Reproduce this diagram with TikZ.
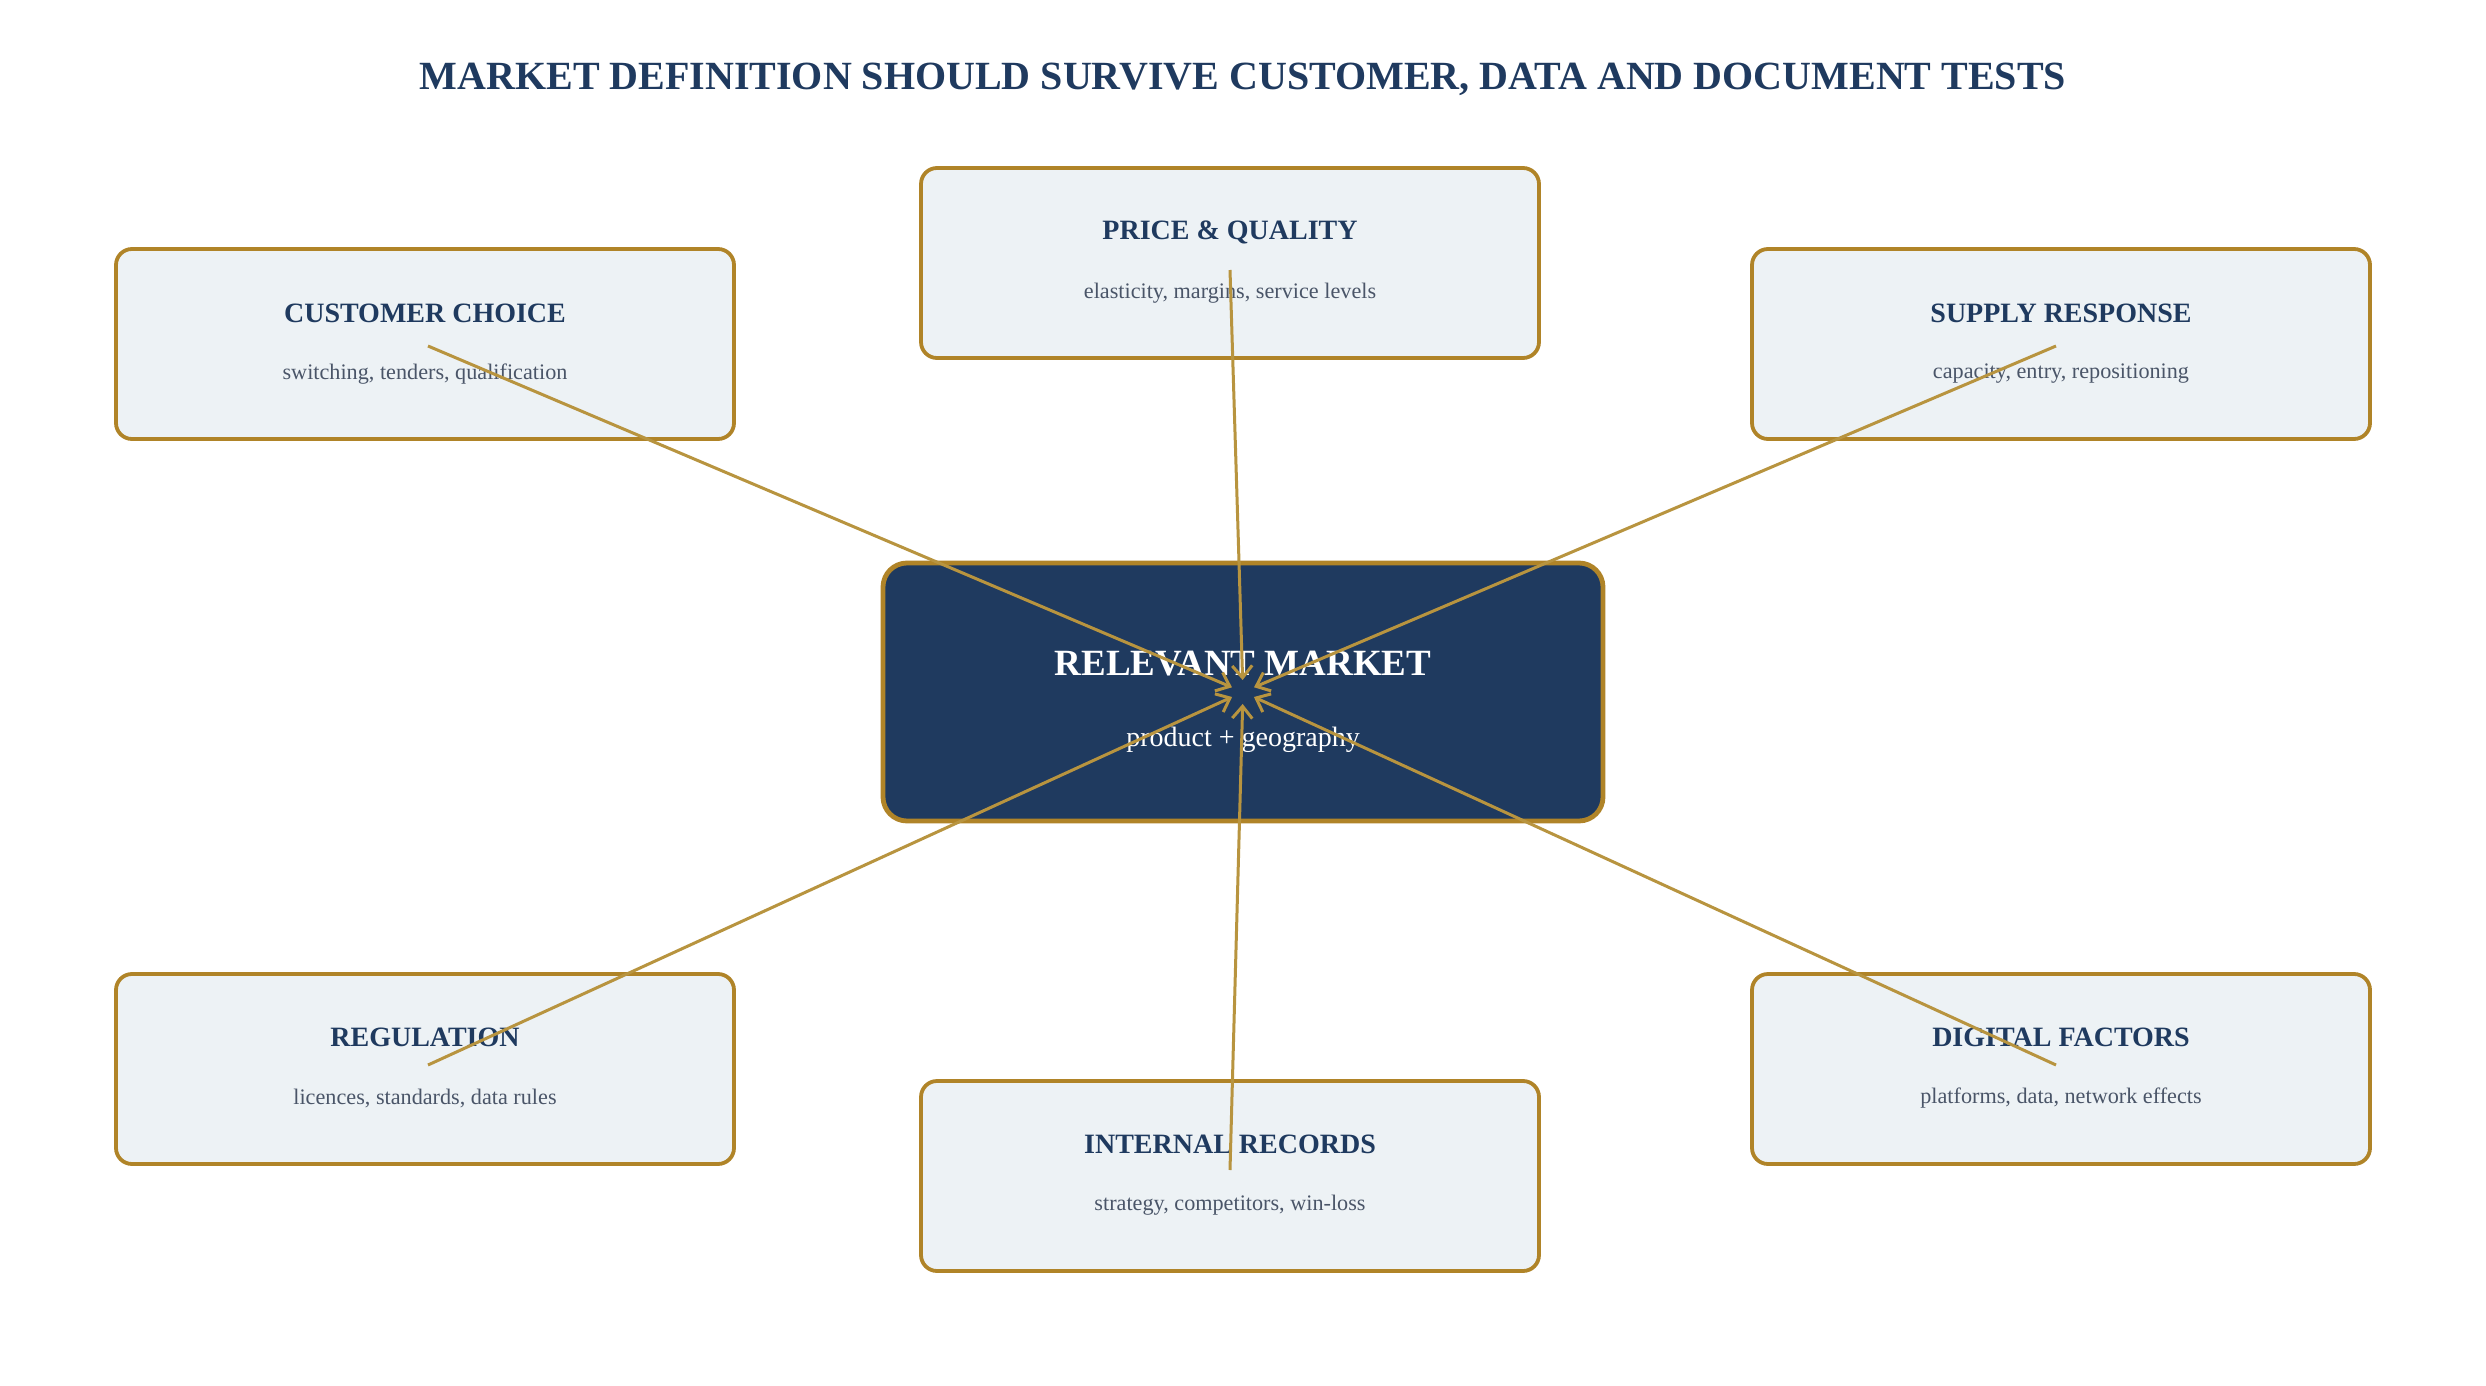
\documentclass[tikz,border=0pt]{standalone}
\usepackage{fontspec}
\setmainfont{Liberation Serif}
\usetikzlibrary{arrows.meta}
\definecolor{navy}{HTML}{1F3A5F}
\definecolor{gold}{HTML}{B08428}
\definecolor{goldline}{HTML}{B8943F}
\definecolor{boxfill}{HTML}{EDF2F5}
\definecolor{subgray}{HTML}{4A5568}
\begin{document}
\begin{tikzpicture}[x=0.5pt,y=-0.5pt,
  factorbox/.style={draw=gold,line width=1.9pt,fill=boxfill,rounded corners=8pt,
    minimum width=309pt,minimum height=95pt,inner sep=0pt},
  centerbox/.style={draw=gold,line width=2.4pt,fill=navy,rounded corners=12pt,
    minimum width=360pt,minimum height=129pt,inner sep=0pt},
  boxtitle/.style={font=\bfseries\fontsize{14}{16}\selectfont,text=navy,inner sep=0pt},
  boxsub/.style={font=\fontsize{11.1}{13}\selectfont,text=subgray,inner sep=0pt},
  link/.style={draw=goldline,line width=1.5pt,-{Straight Barb[length=6pt,width=10pt,line width=1.5pt]},shorten >=6pt}
]
\useasboundingbox (0,0) rectangle (2486,1386);
\fill[white] (0,0) rectangle (2486,1386);

\node[font=\bfseries\fontsize{20}{24}\selectfont,text=navy] (title) at (1243,79)
  {MARKET DEFINITION SHOULD SURVIVE CUSTOMER, DATA AND DOCUMENT TESTS};

% boxes
\node[factorbox] (price) at (1230,263) {};
\node[factorbox] (cust) at (425,344) {};
\node[factorbox] (supply) at (2061,344) {};
\node[factorbox] (reg) at (425,1069) {};
\node[factorbox] (internal) at (1230,1176) {};
\node[factorbox] (digital) at (2061,1069) {};
\node[centerbox] (market) at (1243,692) {};

% texts
\node[boxtitle] (priceT) at (1230,232) {PRICE \& QUALITY};
\node[boxsub] (priceS) at (1230,293) {elasticity, margins, service levels};
\node[boxtitle] (custT) at (425,313) {CUSTOMER CHOICE};
\node[boxsub] (custS) at (425,374) {switching, tenders, qualification};
\node[boxtitle] (supplyT) at (2061,313) {SUPPLY RESPONSE};
\node[boxsub] (supplyS) at (2061,374) {capacity, entry, repositioning};
\node[boxtitle] (regT) at (425,1037) {REGULATION};
\node[boxsub] (regS) at (425,1098) {licences, standards, data rules};
\node[boxtitle] (internalT) at (1230,1144) {INTERNAL RECORDS};
\node[boxsub] (internalS) at (1230,1205) {strategy, competitors, win-loss};
\node[boxtitle] (digitalT) at (2061,1037) {DIGITAL FACTORS};
\node[boxsub] (digitalS) at (2061,1098) {platforms, data, network effects};

\node[font=\bfseries\fontsize{18.5}{22}\selectfont,text=white,inner sep=0pt] (marketT) at (1243,664) {RELEVANT MARKET};
\node[font=\fontsize{14}{17}\selectfont,text=white,inner sep=0pt] (marketS) at (1243,740) {product + geography};

% connector ends
\coordinate (hub) at (1243,692);
\coordinate (custA) at (428,346);
\coordinate (priceA) at (1230,270);
\coordinate (supplyA) at (2056,346);
\coordinate (regA) at (428,1065);
\coordinate (internalA) at (1230,1170);
\coordinate (digitalA) at (2056,1065);

\draw[link] (custA) -- (hub);
\draw[link] (priceA) -- (hub);
\draw[link] (supplyA) -- (hub);
\draw[link] (regA) -- (hub);
\draw[link] (internalA) -- (hub);
\draw[link] (digitalA) -- (hub);
\end{tikzpicture}
\end{document}
